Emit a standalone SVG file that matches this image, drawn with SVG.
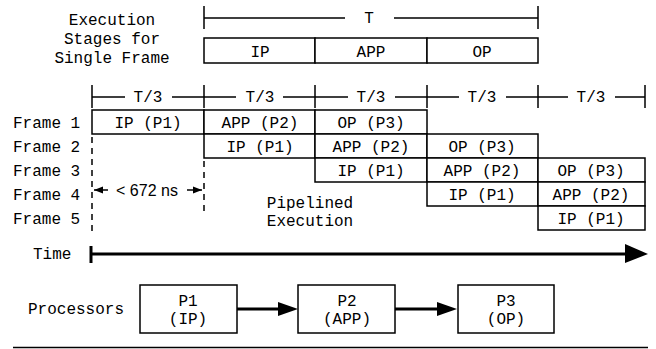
<svg xmlns="http://www.w3.org/2000/svg" width="656" height="349" viewBox="0 0 656 349">
<style>
  text { font-family: "Liberation Mono", "Courier New", monospace; font-size: 16px; fill: #000; }
  .c { text-anchor: middle; }
  .sans { font-family: "Liberation Sans", Arial, sans-serif; font-size: 16px; }
  .box { fill: #fff; stroke: #000; stroke-width: 1.5; }
  .ln { stroke: #000; stroke-width: 1.5; fill: none; }
  .dash { stroke: #000; stroke-width: 1.5; stroke-dasharray: 6 5; fill: none; }
  .thick { stroke: #000; stroke-width: 3; fill: none; }
</style>
<defs>
  <marker id="sa" viewBox="0 0 10 10" refX="10" refY="5" markerWidth="9" markerHeight="6" markerUnits="strokeWidth" orient="auto">
    <path d="M0,1 L10,5 L0,9 Z" fill="#000"/>
  </marker>
</defs>

<g id="single-frame-label">
  <text class="c" x="112" y="25">Execution</text>
  <text class="c" x="112" y="44">Stages for</text>
  <text class="c" x="112" y="63">Single Frame</text>
</g>

<g id="T-bracket">
  <path class="ln" d="M204,6 V29 M538,6 V29 M204,18 H345 M394,18 H538"/>
  <text class="c" x="369" y="23">T</text>
</g>

<g id="single-stages">
  <rect class="box" x="204" y="38" width="111" height="25"/>
  <rect class="box" x="315" y="38" width="112" height="25"/>
  <rect class="box" x="427" y="38" width="111" height="25"/>
  <text class="c" x="260" y="57">IP</text>
  <text class="c" x="371" y="57">APP</text>
  <text class="c" x="482" y="57">OP</text>
</g>

<g id="T3-brackets">
  <path class="ln" d="M92,85 V108 M204,85 V108 M315,85 V108 M427,85 V108 M538,85 V108 M645,85 V108"/>
  <path class="ln" d="M92,97 H125 M172,97 H204 M204,97 H236 M283,97 H315 M315,97 H348 M395,97 H427 M427,97 H459 M506,97 H538 M538,97 H568 M615,97 H645"/>
  <text class="c" x="148" y="102">T/3</text>
  <text class="c" x="260" y="102">T/3</text>
  <text class="c" x="371" y="102">T/3</text>
  <text class="c" x="482" y="102">T/3</text>
  <text class="c" x="591" y="102">T/3</text>
</g>

<g id="frame-labels">
  <text x="13" y="128">Frame 1</text>
  <text x="13" y="152">Frame 2</text>
  <text x="13" y="176">Frame 3</text>
  <text x="13" y="200">Frame 4</text>
  <text x="13" y="224">Frame 5</text>
</g>

<g id="frame1">
  <rect class="box" x="92" y="110" width="112" height="24"/>
  <rect class="box" x="204" y="110" width="111" height="24"/>
  <rect class="box" x="315" y="110" width="112" height="24"/>
  <text class="c" x="148" y="128">IP (P1)</text>
  <text class="c" x="260" y="128">APP (P2)</text>
  <text class="c" x="371" y="128">OP (P3)</text>
</g>
<g id="frame2">
  <rect class="box" x="204" y="134" width="111" height="24"/>
  <rect class="box" x="315" y="134" width="112" height="24"/>
  <rect class="box" x="427" y="134" width="111" height="24"/>
  <text class="c" x="260" y="152">IP (P1)</text>
  <text class="c" x="371" y="152">APP (P2)</text>
  <text class="c" x="482" y="152">OP (P3)</text>
</g>
<g id="frame3">
  <rect class="box" x="315" y="158" width="112" height="24"/>
  <rect class="box" x="427" y="158" width="111" height="24"/>
  <rect class="box" x="538" y="158" width="107" height="24"/>
  <text class="c" x="371" y="176">IP (P1)</text>
  <text class="c" x="482" y="176">APP (P2)</text>
  <text class="c" x="591" y="176">OP (P3)</text>
</g>
<g id="frame4">
  <rect class="box" x="427" y="182" width="111" height="24"/>
  <rect class="box" x="538" y="182" width="107" height="24"/>
  <text class="c" x="482" y="200">IP (P1)</text>
  <text class="c" x="591" y="200">APP (P2)</text>
</g>
<g id="frame5">
  <rect class="box" x="538" y="206" width="107" height="24"/>
  <text class="c" x="591" y="224">IP (P1)</text>
</g>

<g id="latency">
  <path class="dash" d="M92,137 V232"/>
  <path class="dash" d="M204,161 V214"/>
  <path class="ln" d="M108,190 H94" marker-end="url(#sa)"/>
  <path class="ln" d="M187,190 H202" marker-end="url(#sa)"/>
  <text class="sans c" x="147" y="196">&lt; 672 ns</text>
</g>

<g id="pipelined-label">
  <text class="c" x="310" y="208">Pipelined</text>
  <text class="c" x="310" y="226">Execution</text>
</g>

<g id="time-axis">
  <text x="33" y="259">Time</text>
  <path class="thick" d="M91,246 V263"/>
  <path class="thick" d="M91,254 H628"/>
  <path d="M625,244 L648,254 L625,263 Z" fill="#000"/>
</g>

<g id="processors-label">
  <text x="28" y="314">Processors</text>
</g>
<g id="P1">
  <rect class="box" x="140" y="285" width="97" height="48"/>
  <text class="c" x="188" y="306">P1</text>
  <text class="c" x="188" y="324">(IP)</text>
</g>
<g id="P2">
  <rect class="box" x="298" y="285" width="97" height="48"/>
  <text class="c" x="347" y="306">P2</text>
  <text class="c" x="347" y="324">(APP)</text>
</g>
<g id="P3">
  <rect class="box" x="458" y="285" width="96" height="48"/>
  <text class="c" x="506" y="306">P3</text>
  <text class="c" x="506" y="324">(OP)</text>
</g>

<g id="connectors">
  <path class="thick" d="M237,309 H280"/>
  <path d="M278,302 L298,309 L278,316 Z" fill="#000"/>
  <path class="thick" d="M395,309 H439"/>
  <path d="M437,302 L457,309 L437,316 Z" fill="#000"/>
</g>

<path class="ln" d="M13,347.5 H648"/>
</svg>
